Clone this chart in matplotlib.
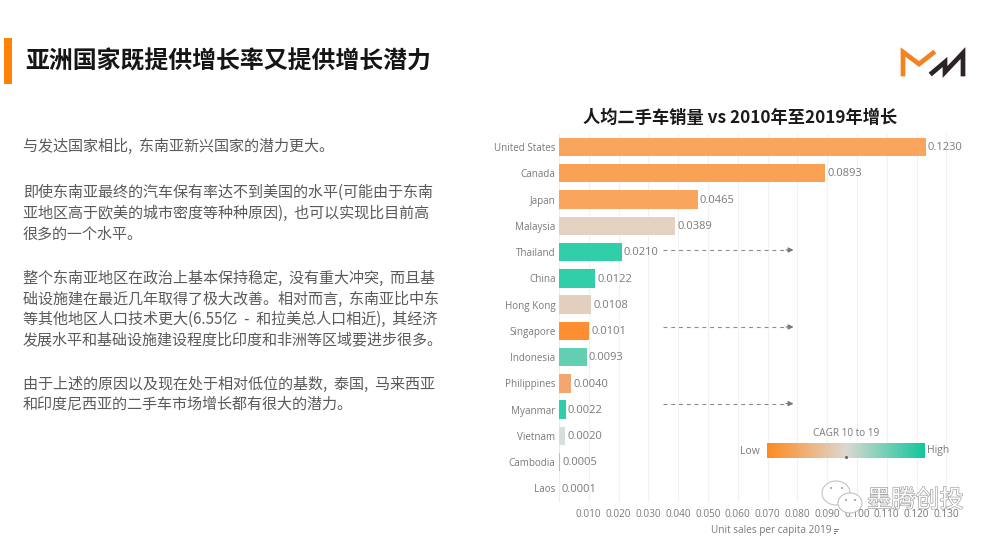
import matplotlib
import matplotlib.patheffects as pe
import matplotlib.pyplot as plt
import numpy as np
from matplotlib.colors import LinearSegmentedColormap
from matplotlib.patches import Circle, Ellipse, Rectangle

matplotlib.use("Agg")

CJK = ['Noto Sans CJK SC', 'DejaVu Sans']
plt.rcParams['font.family'] = ['Open Sans', 'DejaVu Sans']

countries = ['United States', 'Canada', 'Japan', 'Malaysia', 'Thailand', 'China', 'Hong Kong',
             'Singapore', 'Indonesia', 'Philippines', 'Myanmar', 'Vietnam', 'Cambodia', 'Laos']
sales = [0.1230, 0.0893, 0.0465, 0.0389, 0.0210, 0.0122, 0.0108,
         0.0101, 0.0093, 0.0040, 0.0022, 0.0020, 0.0005, 0.0001]
bar_colors = ['#F9A55E', '#F9A253', '#F9A55E', '#E3D2C2', '#31CFA9', '#31CFA9', '#E3CFBD',
              '#FE8E32', '#62CFB3', '#F2A770', '#2ECFA8', '#D9DEDB', '#7FD8C3', '#E8E8E8']
x_ticks = [0.01, 0.02, 0.03, 0.04, 0.05, 0.06, 0.07, 0.08, 0.09, 0.10, 0.11, 0.12, 0.13]
arrow_countries = ['Thailand', 'Singapore', 'Myanmar']

main_title = '亚洲国家既提供增长率又提供增长潜力'
chart_title = '人均二手车销量 vs 2010年至2019年增长'
body_lines = [
    '与发达国家相比,  东南亚新兴国家的潜力更大。',
    '即使东南亚最终的汽车保有率达不到美国的水平(可能由于东南',
    '亚地区高于欧美的城市密度等种种原因),  也可以实现比目前高',
    '很多的一个水平。',
    '整个东南亚地区在政治上基本保持稳定,  没有重大冲突,  而且基',
    '础设施建在最近几年取得了极大改善。相对而言,  东南亚比中东',
    '等其他地区人口技术更大(6.55亿  -  和拉美总人口相近),  其经济',
    '发展水平和基础设施建设程度比印度和非洲等区域要进步很多。',
    '由于上述的原因以及现在处于相对低位的基数,  泰国,  马来西亚',
    '和印度尼西亚的二手车市场增长都有很大的潜力。',
]
body_y = [146, 192, 213, 234, 278, 299, 319, 340, 384, 404]

GREY = '#7A7A7A'

fig = plt.figure(figsize=(10, 5.45), dpi=100)

# full figure layer in pixel coordinates, for everything outside the bars
bg = fig.add_axes([0, 0, 1, 1])
bg.set_xlim(0, 1000)
bg.set_ylim(545, 0)
bg.axis('off')

bg.add_patch(Rectangle((4, 38), 8, 46, color='#FF8207', lw=0))
bg.text(25, 61, main_title, family=CJK, fontsize=17.2, fontweight='bold', color='#151515', va='center')
for line, y in zip(body_lines, body_y):
    bg.text(23, y, line, family=CJK, fontsize=10.85, color='#5A5A5A', va='center')
bg.text(740, 118, chart_title, family=CJK, fontsize=12.4, fontweight='bold', color='#1A1A1A',
        va='center', ha='center')

# logo
bg.plot([903, 903, 919, 933], [74, 52, 64, 53], color='#F58220', lw=3.4, solid_joinstyle='miter')
bg.plot([932, 945, 945, 963, 963], [73, 62, 72, 53, 74], color='#2B2426', lw=3.4, solid_joinstyle='miter')

# bars
ax = fig.add_axes([0.559, (545 - 501.6) / 545, 0.406, 367.7 / 545])
rows = np.arange(len(countries))
ax.barh(rows, sales, height=0.7, color=bar_colors, zorder=3)
for row, val in zip(rows, sales):
    ax.annotate('%.4f' % val, (val, row), xytext=(1.5, -0.5), textcoords='offset points',
                va='center', ha='left', fontsize=8, color=GREY, zorder=4)
ax.set_xlim(0, 406 / 2980)
ax.set_ylim(13.5, -0.5)
ax.set_yticks(rows)
ax.set_yticklabels(countries, fontsize=7.1, color=GREY)
ax.set_xticks(x_ticks)
ax.set_xticklabels(['%.3f' % t for t in x_ticks], fontsize=7.2, color=GREY)
ax.tick_params(axis='both', length=0)
ax.tick_params(axis='y', pad=2.5)
ax.tick_params(axis='x', pad=5.5)
ax.grid(axis='x', color='#F1F1F1', lw=0.8, zorder=0)
ax.set_axisbelow(True)
for name, spine in ax.spines.items():
    spine.set_visible(False)
ax.axvline(0, color='#EDEDED', lw=0.8, zorder=1)
ax.patch.set_alpha(0)

for name, off in zip(arrow_countries, [-0.08, -0.15, -0.23]):
    row = countries.index(name) + off
    ax.plot([0.0349, 0.0765], [row, row], color='#8C8C8C', lw=0.8, ls=(0, (3.5, 3.5)), zorder=2)
    ax.annotate('', xy=(0.0787, row), xytext=(0.0762, row),
                arrowprops=dict(arrowstyle='-|>,head_width=0.15,head_length=0.3', color='#777777',
                                lw=0.8, shrinkA=0, shrinkB=0))

# layer on top for the legend and the watermark
top = fig.add_axes([0, 0, 1, 1])
top.axis('off')
top.patch.set_alpha(0)

cmap = LinearSegmentedColormap.from_list('cagr', ['#FF8A1E', '#DCD8D2', '#10C79C'])
top.imshow(np.linspace(0, 1, 256).reshape(1, -1), cmap=cmap, extent=(767, 925, 458, 443), aspect='auto', zorder=3)
top.set_xlim(0, 1000)
top.set_ylim(545, 0)
top.plot([846], [457], marker='o', ms=1.2, color='#666666', zorder=4)
top.text(846, 433, 'CAGR 10 to 19', fontsize=7.2, color=GREY, ha='center', va='center')
top.text(760, 451, 'Low', fontsize=7.5, color=GREY, ha='right', va='center')
top.text(927, 451, 'High', fontsize=7.5, color=GREY, ha='left', va='center')
top.text(771, 531, 'Unit sales per capita 2019', fontsize=7.2, color=GREY, ha='center', va='center')
top.plot([834, 838], [529, 529], color=GREY, lw=0.7)
top.plot([834, 837], [531, 531], color=GREY, lw=0.7)
top.plot([834, 835], [533, 533], color=GREY, lw=0.7)

# wechat watermark
top.add_patch(Ellipse((836, 493), 28, 24, fc='white', ec='#B5B5B5', lw=0.7, alpha=0.9, zorder=5))
top.add_patch(Ellipse((850, 503), 24, 20, fc='white', ec='#B5B5B5', lw=0.7, alpha=0.95, zorder=6))
for cx, cy in [(831, 488), (842, 488), (846, 500), (855, 500)]:
    top.add_patch(Circle((cx, cy), 1.1, fc='#A8A8A8', ec='none', zorder=7))
top.text(867, 500, '墨腾创投', family=CJK, fontsize=17.4, color='white', va='center', ha='left',
         zorder=6, path_effects=[pe.withStroke(linewidth=0.9, foreground='#9A9A9A')])

fig.savefig('out.png', dpi=100)
